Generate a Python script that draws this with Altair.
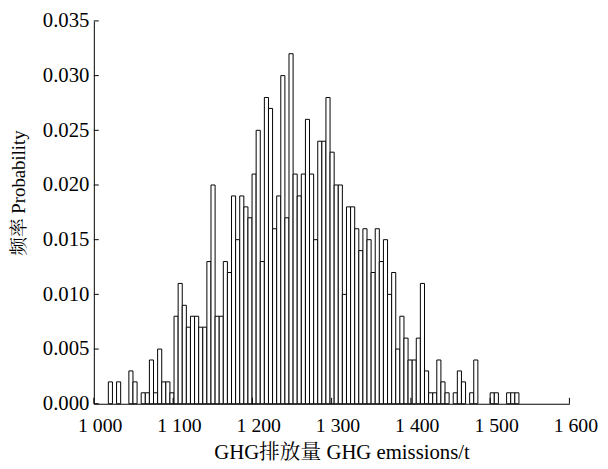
import altair as alt
import pandas as pd

# Histogram of 1000 simulated GHG emission values, 100 equal bins
counts = [2, 0, 2, 0, 0, 3, 2, 0, 1, 1, 4, 1, 5, 2, 2, 1,
          8, 11, 9, 7, 8, 8, 7, 7, 13, 20, 8, 8,
          13, 12, 19, 15, 19, 18, 17, 21, 25, 13, 28, 27,
          16, 19, 30, 17, 32, 21, 19, 21, 26, 21, 15, 24, 24,
          28, 23, 20, 20, 10, 18, 18, 16, 14, 16, 15,
          12, 16, 13, 15, 10, 12, 5, 8, 6, 4, 4, 6, 11,
          3, 1, 1, 4, 2, 1, 0, 1, 3, 2, 0, 1, 4, 0, 0, 0, 1, 1, 0, 0, 1, 1, 1]
n_samples = 1000
bin_start = 1018.3
bin_width = 5.18

x_ticks = [1000, 1100, 1200, 1300, 1400, 1500, 1600]
y_ticks = [0.0, 0.005, 0.010, 0.015, 0.020, 0.025, 0.030, 0.035]

df = pd.DataFrame({
    "lo": [bin_start + i * bin_width for i in range(len(counts))],
    "hi": [bin_start + (i + 1) * bin_width for i in range(len(counts))],
    "p": [c / n_samples for c in counts],
})
df = df[df["p"] > 0]

FONT = "Liberation Serif, Times New Roman, Noto Serif CJK SC, Noto Sans CJK SC, serif"
W, H = 482, 388

xscale = alt.Scale(domain=[1000, 1600], nice=False, zero=False)
yscale = alt.Scale(domain=[0, 0.035], nice=False)

xaxis = alt.Axis(title="GHG排放量 GHG emissions/t", values=x_ticks, ticks=False,
                 labelExpr="replace(format(datum.value, ','), ',', ' ')",
                 labelPadding=12, labelOffset=6, labelFontSize=20, labelFlush=False,
                 labelOverlap=False,
                 titlePadding=7, titleFontSize=21, titleX=251,
                 grid=False, domainColor="black", domainWidth=1)
yaxis = alt.Axis(title="频率 Probability", values=y_ticks, ticks=False, format=".3f",
                 labelPadding=5, labelFontSize=21, labelFlush=False, labelOverlap=False,
                 titlePadding=14, titleFontSize=19, titleY=174,
                 grid=False, domainColor="black", domainWidth=1)

bars = alt.Chart(df).mark_bar(fill="white", stroke="black", strokeWidth=1).encode(
    x=alt.X("lo:Q", scale=xscale, axis=xaxis, title="GHG排放量 GHG emissions/t"),
    x2="hi:Q",
    y=alt.Y("p:Q", scale=yscale, axis=yaxis, title="频率 Probability"),
    y2=alt.datum(0),
)

xt = alt.Chart(pd.DataFrame({"lo": x_ticks})).mark_rule(color="black", strokeWidth=1).encode(
    x=alt.X("lo:Q", scale=xscale, axis=xaxis, title="GHG排放量 GHG emissions/t"),
    y=alt.value(H), y2=alt.value(H - 6),
)
yt = alt.Chart(pd.DataFrame({"p": y_ticks})).mark_rule(color="black", strokeWidth=1).encode(
    y=alt.Y("p:Q", scale=yscale, axis=yaxis, title="频率 Probability"),
    x=alt.value(0), x2=alt.value(5),
)

chart = alt.layer(bars, xt, yt).properties(
    width=W, height=H,
    autosize=alt.AutoSizeParams(type="none"),
    padding={"left": 87, "top": 10, "right": 31, "bottom": 60},
).configure_view(stroke=None).configure_axis(
    labelFont=FONT, titleFont=FONT,
    labelColor="black", titleColor="black", titleFontWeight="normal",
)

chart.save("out.html", embed_options={"renderer": "svg", "actions": False})
